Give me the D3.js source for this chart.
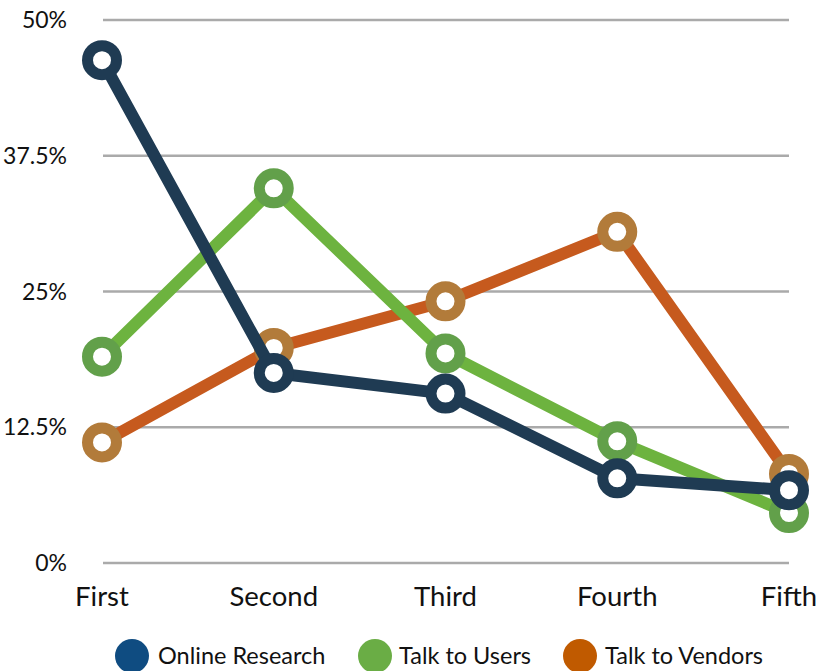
<!DOCTYPE html>
<html><head><meta charset="utf-8">
<script src="https://cdn.jsdelivr.net/npm/d3@7"></script>
<style>body{margin:0;background:#fff}svg{display:block}</style>
</head><body>
<svg id="c" width="817" height="671"></svg>
<script>
const categories = ["First","Second","Third","Fourth","Fifth"];
const onlineResearch = [46.3, 17.5, 15.6, 7.8, 6.7];
const talkToUsers = [19.0, 34.5, 19.3, 11.2, 4.6];
const talkToVendors = [11.1, 19.8, 24.1, 30.5, 8.2];
const yTicks = [0, 12.5, 25, 37.5, 50];
const yTickLabels = ["0%","12.5%","25%","37.5%","50%"];
const seriesNames = ["Online Research","Talk to Users","Talk to Vendors"];

const series = [
  {name: seriesNames[2], values: talkToVendors, line: "#c65a1e", ring: "#b27b3a"},
  {name: seriesNames[1], values: talkToUsers, line: "#6db33f", ring: "#62a04a"},
  {name: seriesNames[0], values: onlineResearch, line: "#1f3b53", ring: "#1f3b53"}
];

const svg = d3.select("#c");
const font = "Lato, 'Open Sans', sans-serif";
const x = d3.scalePoint().domain(categories).range([102, 789]);
const y = d3.scaleLinear().domain([0, 50]).range([563, 20]);

svg.append("g").selectAll("line").data(yTicks).join("line")
  .attr("x1", 103).attr("x2", 789)
  .attr("y1", d => y(d)).attr("y2", d => y(d))
  .attr("stroke", "#aaaaaa").attr("stroke-width", 2.5);

svg.append("g").selectAll("text").data(yTicks).join("text")
  .attr("x", 67).attr("y", d => y(d)).attr("dy", "0.35em")
  .attr("text-anchor", "end").attr("font-family", font)
  .attr("font-size", 23).attr("fill", "#111")
  .text((d, i) => yTickLabels[i]);

svg.append("g").selectAll("text").data(categories).join("text")
  .attr("x", d => x(d)).attr("y", 606)
  .attr("text-anchor", "middle").attr("font-family", font)
  .attr("font-size", 27.5).attr("fill", "#111")
  .text(d => d);

const line = d3.line().x((d, i) => x(categories[i])).y(d => y(d));

series.forEach(s => {
  const g = svg.append("g");
  g.append("path").datum(s.values).attr("d", line)
    .attr("fill", "none").attr("stroke", s.line)
    .attr("stroke-width", 12).attr("stroke-linejoin", "round");
  g.selectAll("circle").data(s.values).join("circle")
    .attr("cx", (d, i) => x(categories[i])).attr("cy", d => y(d))
    .attr("r", 14.5).attr("fill", "#fff")
    .attr("stroke", s.ring).attr("stroke-width", 11);
});

const legendItems = [
  {name: seriesNames[0], color: "#0f4c81", cx: 132, tx: 158},
  {name: seriesNames[1], color: "#6aad45", cx: 375, tx: 399},
  {name: seriesNames[2], color: "#c05a00", cx: 580, tx: 605}
];
const lg = svg.append("g");
legendItems.forEach(it => {
  lg.append("ellipse").attr("cx", it.cx).attr("cy", 656).attr("rx", 17).attr("ry", 17).attr("fill", it.color);
  lg.append("text").attr("x", it.tx).attr("y", 656).attr("dy", "0.35em")
    .attr("font-family", font).attr("font-size", 23.5).attr("fill", "#111").text(it.name);
});
</script>
</body></html>
